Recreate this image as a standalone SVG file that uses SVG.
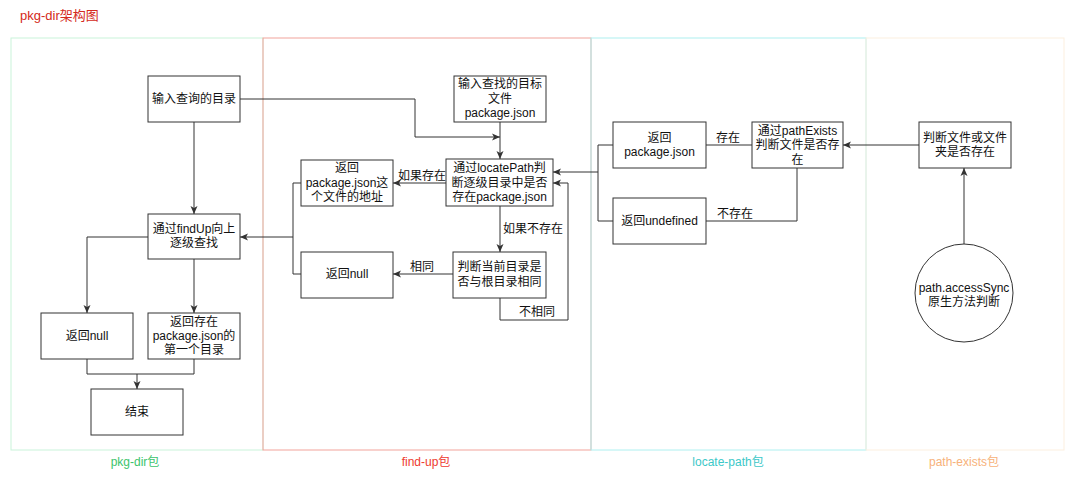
<svg xmlns="http://www.w3.org/2000/svg" width="1080" height="480" viewBox="0 0 1080 480">
<style>
text{font-family:"Liberation Sans","Noto Sans CJK SC",sans-serif;font-size:12px;fill:#111;}
.c{text-anchor:middle;}
.node rect,.node circle{fill:#fff;stroke:#333;stroke-width:1;}
.ln{fill:none;stroke:#333;stroke-width:1;}
.frame{fill:none;stroke-width:1;}
</style>
<defs>
<marker id="a" markerUnits="userSpaceOnUse" markerWidth="8" markerHeight="8" refX="8" refY="4" orient="auto">
<path d="M0,0.5 L8,4 L0,7.5 L2,4 z" fill="#333"/>
</marker>
</defs>
<rect width="1080" height="480" fill="#fff"/>
<text x="20" y="20" style="fill:#d42a20;font-size:13px">pkg-dir架构图</text>
<g id="frames">
<rect class="frame" x="11" y="38" width="252" height="412" stroke="#c9f3da"/>
<rect class="frame" x="263" y="38" width="328" height="412" stroke="#f2a39b"/>
<rect class="frame" x="591" y="38" width="275" height="412" stroke="#aef0f0"/>
<rect class="frame" x="866" y="38" width="198" height="412" stroke="#fcefdf"/>
<text class="c" x="135" y="466" style="fill:#3cc46c">pkg-dir包</text>
<text class="c" x="426" y="466" style="fill:#ee3a30">find-up包</text>
<text class="c" x="728" y="466" style="fill:#3cc8c8">locate-path包</text>
<text class="c" x="964" y="466" style="fill:#f7b27a">path-exists包</text>
</g>
<g id="connectors">
<path class="ln" d="M194,122 V214" marker-end="url(#a)"/>
<path class="ln" d="M148,237 H87 V313" marker-end="url(#a)"/>
<path class="ln" d="M194,259 V313" marker-end="url(#a)"/>
<path class="ln" d="M87,359 V374 H194 V359"/>
<path class="ln" d="M137,374 V389" marker-end="url(#a)"/>
<path class="ln" d="M240,99 H415 V137 H500" marker-end="url(#a)"/>
<path class="ln" d="M500,122 V159" marker-end="url(#a)"/>
<path class="ln" d="M446,183 H393" marker-end="url(#a)"/>
<text class="c" x="422" y="180">如果存在</text>
<path class="ln" d="M500,206 V252" marker-end="url(#a)"/>
<text x="503" y="233">如果不存在</text>
<path class="ln" d="M453,274 H393" marker-end="url(#a)"/>
<text class="c" x="422" y="271">相同</text>
<path class="ln" d="M500,298 V320 H568 V183 H553" marker-end="url(#a)"/>
<text class="c" x="537" y="316">不相同</text>
<path class="ln" d="M301,183 H293 V274 H301"/>
<path class="ln" d="M293,237 H240" marker-end="url(#a)"/>
<path class="ln" d="M613,145 H598 V221 H613"/>
<path class="ln" d="M598,172 H553" marker-end="url(#a)"/>
<path class="ln" d="M706,145 H752"/>
<text class="c" x="728" y="142">存在</text>
<path class="ln" d="M797,168 V221 H706"/>
<text class="c" x="735" y="218">不存在</text>
<path class="ln" d="M919,145 H843" marker-end="url(#a)"/>
<path class="ln" d="M964,244 V168" marker-end="url(#a)"/>
</g>
<g id="n-input-dir" class="node"><rect x="148" y="76" width="92" height="46"/><text class="c" x="194" y="103">输入查询的目录</text></g>
<g id="n-findup" class="node"><rect x="148" y="214" width="92" height="45"/><text class="c" x="194" y="233">通过findUp向上</text><text class="c" x="194" y="247">逐级查找</text></g>
<g id="n-null1" class="node"><rect x="41" y="313" width="92" height="46"/><text class="c" x="87" y="340">返回null</text></g>
<g id="n-first-dir" class="node"><rect x="148" y="313" width="92" height="46"/><text class="c" x="194" y="326">返回存在</text><text class="c" x="194" y="340">package.json的</text><text class="c" x="194" y="354">第一个目录</text></g>
<g id="n-end" class="node"><rect x="91" y="389" width="92" height="46"/><text class="c" x="137" y="416">结束</text></g>
<g id="n-target" class="node"><rect x="454" y="76" width="92" height="46"/><text class="c" x="500" y="88">输入查找的目标</text><text class="c" x="500" y="103">文件</text><text class="c" x="500" y="117">package.json</text></g>
<g id="n-locate" class="node"><rect x="446" y="159" width="107" height="47"/><text class="c" x="499.5" y="172">通过locatePath判</text><text class="c" x="499.5" y="187">断逐级目录中是否</text><text class="c" x="499.5" y="201">存在package.json</text></g>
<g id="n-return-addr" class="node"><rect x="301" y="160" width="92" height="46"/><text class="c" x="347" y="172">返回</text><text class="c" x="347" y="187">package.json这</text><text class="c" x="347" y="201">个文件的地址</text></g>
<g id="n-null2" class="node"><rect x="301" y="252" width="92" height="46"/><text class="c" x="347" y="278">返回null</text></g>
<g id="n-root" class="node"><rect x="453" y="252" width="93" height="46"/><text class="c" x="499.5" y="271">判断当前目录是</text><text class="c" x="499.5" y="286">否与根目录相同</text></g>
<g id="n-return-pkg" class="node"><rect x="613" y="122" width="93" height="46"/><text class="c" x="659.5" y="142">返回</text><text class="c" x="659.5" y="156">package.json</text></g>
<g id="n-undefined" class="node"><rect x="613" y="198" width="93" height="46"/><text class="c" x="659.5" y="225">返回undefined</text></g>
<g id="n-pathexists" class="node"><rect x="752" y="122" width="91" height="46"/><text class="c" x="797.5" y="135">通过pathExists</text><text class="c" x="797.5" y="149">判断文件是否存</text><text class="c" x="797.5" y="164">在</text></g>
<g id="n-judge" class="node"><rect x="919" y="122" width="92" height="46"/><text class="c" x="965" y="142">判断文件或文件</text><text class="c" x="965" y="156">夹是否存在</text></g>
<g id="n-access" class="node"><circle cx="964" cy="293" r="49"/><text class="c" x="964" y="292">path.accessSync</text><text class="c" x="964" y="306">原生方法判断</text></g>
</svg>
